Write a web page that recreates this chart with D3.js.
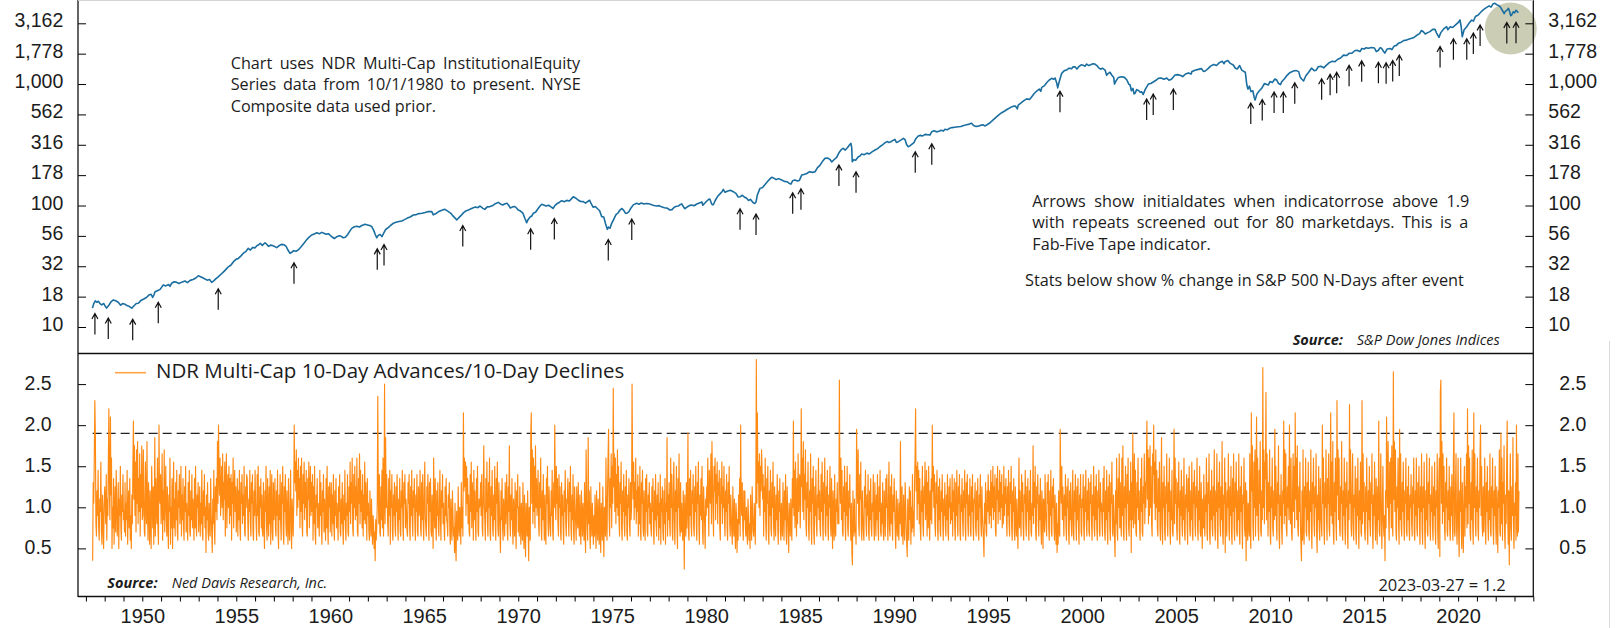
<!DOCTYPE html>
<html>
<head>
<meta charset="utf-8">
<script src="https://cdn.jsdelivr.net/npm/d3@7"></script>
<style>
  html, body { margin: 0; padding: 0; background: #fff; }
  svg { display: block; font-family: "Open Sans", "Noto Sans", sans-serif; }
</style>
</head>
<body>
<svg id="chart" width="1616" height="628"></svg>
<script>
// ---- Equity index level (log scale): decimal year / level ----
const indexYears = [
  1947.35,1947.42,1947.50,1947.57,1947.66,1947.75,1947.84,1947.95,1948.02,1948.10,
  1948.22,1948.35,1948.46,1948.55,1948.63,1948.72,1948.85,1948.95,1949.08,1949.18,
  1949.30,1949.44,1949.55,1949.68,1949.79,1949.92,1950.08,1950.22,1950.35,1950.47,
  1950.55,1950.62,1950.68,1950.80,1950.95,1951.05,1951.12,1951.25,1951.40,1951.47,
  1951.56,1951.70,1951.83,1951.95,1952.10,1952.27,1952.40,1952.55,1952.70,1952.85,
  1952.98,1953.10,1953.22,1953.34,1953.45,1953.58,1953.69,1953.80,1953.92,1954.04,
  1954.20,1954.35,1954.50,1954.58,1954.72,1954.85,1955.00,1955.11,1955.25,1955.40,
  1955.52,1955.64,1955.75,1955.88,1956.00,1956.08,1956.17,1956.28,1956.38,1956.53,
  1956.62,1956.72,1956.82,1956.92,1957.05,1957.15,1957.27,1957.40,1957.55,1957.65,
  1957.75,1957.86,1957.95,1958.05,1958.18,1958.30,1958.45,1958.60,1958.75,1958.88,
  1959.01,1959.15,1959.28,1959.42,1959.54,1959.66,1959.78,1959.90,1960.08,1960.22,
  1960.35,1960.48,1960.58,1960.69,1960.80,1960.92,1961.03,1961.14,1961.28,1961.42,
  1961.55,1961.68,1961.85,1961.98,1962.10,1962.20,1962.30,1962.40,1962.47,1962.55,
  1962.65,1962.75,1962.85,1962.95,1963.10,1963.22,1963.35,1963.50,1963.65,1963.80,
  1963.95,1964.10,1964.25,1964.42,1964.58,1964.72,1964.88,1965.05,1965.22,1965.40,
  1965.48,1965.60,1965.75,1965.90,1966.02,1966.10,1966.25,1966.40,1966.50,1966.62,
  1966.73,1966.82,1966.95,1967.08,1967.20,1967.32,1967.43,1967.58,1967.72,1967.85,
  1967.97,1968.12,1968.22,1968.35,1968.50,1968.62,1968.75,1968.94,1969.05,1969.18,
  1969.30,1969.40,1969.47,1969.58,1969.70,1969.82,1969.92,1970.00,1970.12,1970.25,
  1970.35,1970.45,1970.52,1970.62,1970.72,1970.80,1970.92,1971.05,1971.15,1971.25,
  1971.35,1971.48,1971.62,1971.72,1971.78,1971.85,1971.95,1972.08,1972.20,1972.31,
  1972.45,1972.58,1972.72,1972.85,1972.93,1973.05,1973.18,1973.32,1973.46,1973.58,
  1973.70,1973.80,1973.88,1973.99,1974.10,1974.22,1974.33,1974.44,1974.55,1974.65,
  1974.74,1974.80,1974.88,1974.97,1975.08,1975.20,1975.32,1975.41,1975.52,1975.62,
  1975.70,1975.77,1975.88,1976.00,1976.12,1976.30,1976.42,1976.55,1976.68,1976.83,
  1976.95,1977.10,1977.22,1977.37,1977.50,1977.62,1977.78,1977.92,1978.07,1978.18,
  1978.30,1978.42,1978.52,1978.61,1978.70,1978.80,1978.87,1978.96,1979.10,1979.22,
  1979.35,1979.50,1979.67,1979.77,1979.82,1979.92,1980.05,1980.15,1980.20,1980.28,
  1980.33,1980.38,1980.48,1980.60,1980.72,1980.85,1980.91,1981.00,1981.12,1981.28,
  1981.44,1981.58,1981.70,1981.80,1981.92,1982.05,1982.15,1982.25,1982.35,1982.50,
  1982.58,1982.65,1982.72,1982.86,1983.00,1983.12,1983.25,1983.38,1983.48,1983.58,
  1983.72,1983.85,1984.02,1984.15,1984.30,1984.42,1984.51,1984.60,1984.72,1984.85,
  1984.95,1985.08,1985.20,1985.35,1985.50,1985.65,1985.79,1985.92,1986.05,1986.18,
  1986.32,1986.45,1986.58,1986.68,1986.78,1986.94,1987.08,1987.20,1987.29,1987.40,
  1987.52,1987.62,1987.70,1987.74,1987.77,1987.85,1987.95,1988.08,1988.18,1988.27,
  1988.40,1988.55,1988.68,1988.82,1988.98,1989.12,1989.25,1989.38,1989.51,1989.62,
  1989.72,1989.82,1989.92,1990.04,1990.12,1990.22,1990.35,1990.49,1990.58,1990.66,
  1990.75,1990.85,1990.95,1991.05,1991.15,1991.28,1991.40,1991.52,1991.65,1991.78,
  1991.90,1992.00,1992.12,1992.25,1992.38,1992.50,1992.62,1992.70,1992.82,1992.95,
  1993.08,1993.22,1993.41,1993.55,1993.70,1993.85,1994.00,1994.12,1994.22,1994.35,
  1994.47,1994.60,1994.72,1994.82,1994.92,1995.10,1995.25,1995.40,1995.55,1995.72,
  1995.88,1996.02,1996.18,1996.32,1996.45,1996.55,1996.60,1996.75,1996.90,1997.05,
  1997.20,1997.32,1997.45,1997.60,1997.72,1997.80,1997.85,1997.98,1998.12,1998.25,
  1998.38,1998.48,1998.56,1998.65,1998.70,1998.76,1998.91,1999.05,1999.18,1999.30,
  1999.45,1999.52,1999.62,1999.72,1999.82,1999.95,2000.05,2000.15,2000.24,2000.35,
  2000.45,2000.58,2000.68,2000.78,2000.88,2000.98,2001.08,2001.22,2001.30,2001.38,
  2001.48,2001.57,2001.68,2001.72,2001.80,2001.92,2002.10,2002.25,2002.38,2002.48,
  2002.55,2002.62,2002.70,2002.76,2002.81,2002.90,2003.00,2003.10,2003.17,2003.25,
  2003.35,2003.52,2003.65,2003.80,2003.95,2004.05,2004.20,2004.35,2004.50,2004.62,
  2004.75,2004.94,2005.08,2005.25,2005.35,2005.50,2005.65,2005.80,2005.83,2006.00,
  2006.18,2006.35,2006.45,2006.55,2006.71,2006.85,2007.00,2007.15,2007.30,2007.45,
  2007.55,2007.60,2007.75,2007.88,2008.04,2008.15,2008.25,2008.38,2008.49,2008.60,
  2008.68,2008.76,2008.82,2008.90,2008.98,2009.08,2009.15,2009.20,2009.30,2009.46,
  2009.55,2009.70,2009.90,2010.00,2010.12,2010.25,2010.35,2010.45,2010.55,2010.62,
  2010.75,2010.90,2011.05,2011.15,2011.28,2011.40,2011.52,2011.60,2011.68,2011.78,
  2011.90,2012.05,2012.20,2012.35,2012.45,2012.56,2012.70,2012.85,2013.00,2013.15,
  2013.30,2013.45,2013.60,2013.75,2013.90,2014.08,2014.20,2014.34,2014.50,2014.62,
  2014.78,2014.88,2015.00,2015.10,2015.22,2015.40,2015.55,2015.65,2015.75,2015.85,
  2015.93,2016.03,2016.10,2016.22,2016.40,2016.48,2016.60,2016.72,2016.82,2016.95,
  2017.10,2017.25,2017.40,2017.53,2017.65,2017.80,2017.95,2018.05,2018.15,2018.25,
  2018.38,2018.50,2018.65,2018.77,2018.85,2018.98,2019.08,2019.25,2019.39,2019.45,
  2019.58,2019.70,2019.85,2020.00,2020.10,2020.16,2020.22,2020.32,2020.46,2020.60,
  2020.72,2020.82,2020.92,2021.07,2021.20,2021.35,2021.50,2021.65,2021.75,2021.85,
  2021.96,2022.05,2022.15,2022.25,2022.35,2022.45,2022.50,2022.60,2022.68,2022.75,
  2022.80,2022.85,2022.93,2023.00,2023.08,2023.15,2023.20
];
const indexLevels = [
  14.3,15.6,16.4,16.0,16.3,15.6,15.2,15.6,14.9,14.3,
  15.1,16.2,16.7,16.5,16.3,16.0,15.1,15.6,15.4,15.0,
  14.8,14.3,14.9,15.6,15.7,16.5,17.0,17.5,18.3,18.6,
  17.5,18.4,19.5,19.9,20.4,21.5,22.2,21.8,22.4,21.6,
  22.9,23.6,23.3,22.8,23.4,23.9,23.2,24.2,24.6,25.3,
  26.4,25.9,25.4,24.8,24.3,24.6,23.3,24.0,25.0,25.9,
  27.3,28.7,30.4,31.3,32.4,34.5,36.2,36.7,38.5,40.8,
  42.0,44.4,43.0,45.2,44.8,46.5,47.3,48.9,47.0,49.4,
  48.0,46.1,47.2,46.8,45.9,45.0,46.6,47.9,47.5,46.2,
  43.0,40.4,41.2,42.5,42.0,43.1,45.8,48.9,52.4,55.0,
  57.2,58.4,59.6,58.5,60.1,59.0,57.9,58.6,55.3,53.5,
  55.4,56.3,55.8,54.3,54.8,57.5,61.2,64.9,66.8,67.5,
  66.5,68.5,70.0,69.2,68.4,67.3,63.0,57.5,54.3,56.8,
  57.8,55.5,59.5,63.5,66.0,68.8,71.3,72.8,73.8,74.5,
  76.5,78.8,80.5,83.5,84.2,85.8,86.4,87.5,89.3,89.0,
  83.8,85.5,88.8,91.0,92.5,93.1,89.8,86.7,83.0,79.5,
  76.0,78.8,82.5,87.0,90.1,91.5,93.1,95.5,97.2,96.0,
  99.1,94.8,93.0,97.5,98.0,99.5,102.8,106.2,103.0,101.0,
  103.5,104.3,101.5,95.5,97.5,98.2,95.0,91.8,90.0,86.5,
  78.5,72.1,76.5,80.2,82.0,86.3,88.0,94.0,98.5,102.4,
  101.0,99.0,100.5,98.0,96.7,94.5,99.8,104.0,106.5,109.6,
  107.5,110.2,109.0,114.5,118.0,115.5,111.0,108.0,107.6,104.5,
  108.0,110.5,103.5,96.7,98.2,94.0,90.5,81.0,80.5,70.5,
  63.7,66.5,65.0,71.3,77.0,84.0,87.2,91.8,94.5,90.8,
  86.5,86.3,88.6,95.5,101.2,104.2,102.5,105.0,103.0,104.0,
  103.3,101.5,100.2,99.0,99.8,97.5,95.8,95.2,91.8,92.5,
  96.8,98.5,99.0,101.5,103.2,97.0,94.2,96.7,99.8,101.0,
  99.5,103.0,105.5,107.0,100.5,104.5,109.5,113.0,112.5,104.0,
  101.5,101.5,110.0,118.5,124.0,130.5,135.8,128.5,131.0,133.5,
  130.0,126.0,117.5,118.0,121.5,116.8,114.6,110.0,112.5,105.5,
  104.0,107.0,122.0,138.4,141.0,148.5,157.0,165.0,170.6,168.8,
  163.5,166.5,162.0,158.0,157.0,152.0,150.3,160.0,162.5,159.5,
  160.5,178.0,180.0,183.5,190.0,187.5,189.7,205.0,214.0,230.0,
  244.5,246.0,240.0,228.5,237.0,249.0,275.0,290.0,295.6,286.0,
  300.0,315.0,325.0,300.0,229.0,238.5,236.0,251.0,256.0,265.5,
  262.0,270.0,266.0,276.5,286.4,294.0,306.0,316.0,328.7,336.0,
  330.5,335.0,342.0,350.6,330.0,335.5,345.0,357.0,348.0,318.0,
  305.0,311.0,320.5,330.0,355.0,373.0,378.0,374.0,385.0,383.0,
  380.0,405.0,412.0,404.0,408.0,416.0,410.0,424.0,420.0,432.5,
  438.0,441.0,445.0,447.0,456.0,462.0,468.0,475.0,455.0,448.0,
  449.0,457.0,462.0,452.0,460.0,480.0,505.0,530.0,555.0,581.0,
  600.0,620.0,640.0,655.0,660.0,625.0,671.0,700.0,730.0,755.0,
  745.0,786.0,835.0,880.0,910.0,870.0,939.0,965.0,1030.0,1080.0,
  1114.0,1095.0,1120.0,1014.0,930.0,1020.0,1225.0,1290.0,1305.0,1350.0,
  1340.0,1385.0,1387.0,1330.0,1390.0,1440.0,1430.0,1400.0,1461.0,1420.0,
  1440.0,1470.0,1461.0,1420.0,1360.0,1325.0,1350.0,1303.0,1180.0,1220.0,
  1250.0,1186.0,1130.0,1000.0,1060.0,1130.0,1148.0,1135.0,1080.0,1000.0,
  982.0,880.0,920.0,830.0,838.0,900.0,885.0,855.0,862.0,820.0,
  900.0,1000.0,1010.0,1045.0,1080.0,1114.0,1120.0,1095.0,1120.0,1075.0,
  1095.0,1186.0,1195.0,1175.0,1150.0,1210.0,1235.0,1210.0,1262.0,1300.0,
  1320.0,1340.0,1270.0,1280.0,1345.0,1410.0,1450.0,1420.0,1500.0,1540.0,
  1470.0,1527.0,1560.0,1480.0,1433.0,1350.0,1330.0,1420.0,1303.0,1270.0,
  1250.0,981.0,910.0,960.0,866.0,880.0,780.0,738.0,830.0,893.0,
  920.0,1010.0,981.0,1050.0,1030.0,1100.0,1079.0,1010.0,990.0,1046.0,
  1100.0,1180.0,1240.0,1262.0,1285.0,1290.0,1265.0,1140.0,1100.0,1060.0,
  1170.0,1250.0,1350.0,1290.0,1300.0,1387.0,1400.0,1360.0,1430.0,1500.0,
  1540.0,1527.0,1600.0,1640.0,1730.0,1720.0,1790.0,1791.0,1880.0,1900.0,
  1850.0,1960.0,1940.0,1990.0,1968.0,2000.0,1980.0,1850.0,1890.0,1990.0,
  1968.0,1860.0,1800.0,1940.0,1960.0,1920.0,2060.0,2080.0,2163.0,2200.0,
  2280.0,2300.0,2350.0,2378.0,2420.0,2520.0,2600.0,2760.0,2694.0,2580.0,
  2650.0,2700.0,2820.0,2818.0,2640.0,2422.0,2650.0,2860.0,2965.0,2800.0,
  2960.0,2920.0,3050.0,3200.0,3366.0,3000.0,2451.0,2800.0,2965.0,3200.0,
  3360.0,3300.0,3600.0,3700.0,3900.0,4100.0,4250.0,4400.0,4300.0,4550.0,
  4614.0,4500.0,4440.0,4300.0,4050.0,3800.0,3937.0,4050.0,4200.0,3900.0,
  3650.0,3700.0,3937.0,3850.0,4050.0,3950.0,3865.0
];

// ---- Initial dates when the ratio rose above 1.9 (repeats screened for 80 days) ----
const signalYears = [
  1947.48, 1948.19, 1949.49, 1950.85, 1954.04, 1958.07, 1962.50, 1962.86, 1967.05, 1970.66,
  1971.92, 1974.79, 1976.04, 1981.80, 1982.65, 1984.60, 1985.04, 1987.06, 1987.97, 1991.12,
  1992.00, 1998.82, 2003.43, 2003.78, 2004.85, 2008.97, 2009.58, 2010.21, 2010.70, 2011.31,
  2012.74, 2013.19, 2013.54, 2014.20, 2014.87, 2015.76, 2016.17, 2016.52, 2016.87, 2019.04,
  2019.75, 2020.46, 2020.81, 2021.17, 2022.59, 2023.08
];
const signalThreshold = 1.9;

// ---- 10-day advances / 10-day declines ratio ----
// One string per calendar year, one character per reading, spread evenly through the year.
// Character code: position in ratioCodes, value = 0.20 + 0.05 * position
// ('g' = 1.00, 'y' = 1.90, 'A' = 2.00, 'K' = 2.50).
const ratioCodes = "0123456789abcdefghijklmnopqrstuvwxyzABCDEFGHIJKLMNOPQRSTUVWXYZ";
const ratioFirstYear = 1947;
const ratioStart = 1947.33;
const ratioEnd = 2023.2356;          // 2023-03-27
const ratioLastDate = "2023-03-27";
const ratioRows = [
  "3mhsGxc9kepb8ifra7jd6gl",
  "hco8ierEkdCj" + "s6gbn7flaph9" + "cm6ieqb8jfod",
  "fam9hdp7gkbn" + "8e6jcqBivera" + "uhwcnft9ogvd",
  "euja9rhcwf8m" + "g7kd6qibl7ex" + "9ngcsb7Ajhoc",
  "ht8kduaiqe9l" + "c6jfs7gbn6hr" + "bi9mdpa8kgoc",
  "gq9jdnb8lfqa" + "hc8mepa9kdob" + "ie8nbqc9jgma",
  "fl9hcpa8keob" + "g5jdma8hc9ne" + "a5icpb7lfndw",
  "hAnjsekqgtdm" + "ir9ltbjogqcn" + "eo8mhsbkpfla",
  "gn9kdpb8mhoc" + "jeqa9lgond8i" + "fpc9mhoa8kep",
  "hc8oeqa9lgnb" + "ja9md6kfqb8n" + "e9lcp7hoa8md",
  "gnb9kepa6jdo" + "c8mhqa7lfoc9" + "kd7nb8gpa6ie",
  "9hAmrkuepgsi" + "nbqfsc9ohrdm" + "gpa9nirbkqem",
  "fo8lcqa7jgnb" + "hd9pemb7kfoa" + "id8nbqc7lgma",
  "gm9jcob8kenb" + "hd8lfoa9icmb" + "7jdpb8heoa9l",
  "frcmhsb9ogqd" + "lesa9nhtcpfk" + "bo9jdrcmg8ne",
  "ha8kd9ib7ec6" + "a3d8bhHjcoa9" + "ldpbs9iKcxgo",
  "hc9nep7kgoa8" + "jemb9lfoc8id" + "na9kgpc8mhob",
  "ifa9mhob8lep" + "d9kgnc8jfoa9" + "legpb9mdoc8k",
  "reb9lhoc8mfn" + "a9jd6sgbnc8k" + "emb9hpd8kgoc",
  "hb8lendc9jgm" + "a7ic8ke9b5h7" + "3fa8lc9gd7mb",
  "g9Dkslreqhnc" + "ja9ofrbmh8pd" + "kc8nfqa9ighm",
  "eob9kvhd8nfr" + "c9mgsa8lepb9" + "jdqc8nhrb9mf",
  "a5kdnb8ie9mc" + "hoa8lfvc9jdn" + "b7ie9mc6kgoa",
  "g9ld7hc8mb6j" + "a4he9kb3gc8y" + "Dhucsfqbvgne",
  "ipc9mgsb8kdo" + "e8ja7nhqc9lf" + "b9kepa8mgAid",
  "qhnc9ogla8me" + "jb7kfpc9ihnd" + "9mfqb8jdoa7l",
  "gc8lebmd9ja7" + "ke9hc8ma5uib" + "8xcka6ld9hb7",
  "e9jb6kd8ic7m" + "a5hc8lb4gd9s" + "c8ksze9ngtbq",
  "hJltfscogueq" + "d9mhrb8kfoc9" + "lepa8jgnc9md",
  "gKpirdmgsckf" + "o9lcqa8mhpb9" + "ke8nfoa9jgmc",
  "hb9lfna7kdoc" + "9jem8hbo7ifl" + "a8kcn7hfx9jd",
  "mc9sgoa8lrd7" + "kfqb6ngtc9ma" + "hc8ke1jd9mbg",
  "ya8nepc9khob" + "9lfqc8mhrb7j" + "endqa7lgc6ie",
  "lgsi9pjhtcwn" + "f9qksdohrcmj" + "pb8nhrclgqd9",
  "kfob8mhqc9je" + "a7lc9ib6he5d" + "8jcn9Ahemb8k",
  "dkb9ga7ie8c6" + "jc8lea9hd7kQ" + "hDmrgteqkupi",
  "o9lfsc8nhqa7" + "kepb9mgrc8ld" + "9jdob7kfna8h",
  "c9mf8kdoa7lg" + "a5hd9ic8ngBe" + "pbrg9nctfkob",
  "hElsfwdoiuc9" + "mgrb8kftc7nh" + "qa7lepc9jgsd",
  "kb9ofrc8mhsa" + "9lepb8jgqc9n" + "e6kd8oa9ifmc",
  "gcLnhsdpa9lf" + "qc8meqb9kgoc" + "8h52kd9iab7z",
  "mhuc9oirb8ke" + "a8lgpc9jeoa8" + "kdnb9hfoc8me",
  "9jdob8lfpa9h" + "cma8ke9ngoc8" + "irb9lcod8jfn",
  "ga6kd9ib8hcw" + "e9la7jc8mhb7" + "4ic8ldk7gaob",
  "f9msEkqdrhpc" + "nb8kfqc9lhrd" + "gp9mbqe8kdnc",
  "Akqgoc9mhpb8" + "ldna9kfoc8ie" + "mb9jdoa8lgnc",
  "hdo9kfnb8mep" + "c9lhoa8jfnd9" + "kgpb8mhoc9je",
  "na9lfoc8ihmb" + "9kdna8jgoc9l" + "eb84hcma9kfo",
  "hckepbmgqdlf" + "oa9niqckfpdm" + "gobjcqelhnd9",
  "lepc9mhqb8kf" + "na8ld9ic6gsb" + "kd9ofmb8jhpc",
  "9lfnb8kdpa9h" + "evcmgqa8lhoc" + "9jdnb7kf6iga",
  "ofc9mhob8kep" + "a9lgnc8jd7h5" + "c7ka9zmhqdlf",
  "9jeob8lgna7k" + "dmc9hpa8kfoc" + "8ldnb7jgoa9i",
  "gob8lfpc9kdn" + "a9mhoc8jeqb9" + "ldob8kgpa9mf",
  "hc9nfqa8kdpb" + "7lfob8mhra9j" + "e94kcsa8ngtb",
  "mc9seva8lgqc" + "8ohsb9kdr5md" + "ybjtcpa9mgsd",
  "kb8nfsa9lhtc" + "mgrBiucsevgq" + "c9toAhrdugpb",
  "9nfrb8kxc7mg" + "qa8lhtc9mfsb" + "7kdpa9gzcshn",
  "b8mgra7kepc9" + "ldsa8jgoc7nf" + "qb9kdra8mhpc",
  "9lgsb8kdqa9m" + "e6iboc9jfsa8" + "mhta7kdpb9le",
  "ub8kfta6mgrc" + "9ldwa7jhs5mc" + "9kgtb8leqa7n",
  "ftb8mgra9kdt" + "a7lfqc6jhsb9" + "m3ke8hc9tb6D",
  "kvc8rgu9jCes" + "b8phwa9kdOgu" + "crnIdti9mfua",
  "7lgsb9kdzeqc" + "8mhva6jeob7k" + "hBcuetb9lgqd",
  "Ahcsa8ktfqbD" + "isdvb9lfrc73" + "k8ub7lgsa9md",
  "ra8kfub6mhsc" + "9lgta5jdqb8n" + "fc9Ahsb7mgud",
  "8nhtb9lDercw" + "a7mfsc8Gjuds" + "b9lhwa8kesc7",
  "mgra6kdFhub9" + "ltc8jgqa7nes" + "b6kdra9Gctfm",
  "a8lfsb7kdqc9" + "mhtb6jerc8ng" + "7ldBa9ktc6hq",
  "c9e3kbCmgwd8" + "rhsbvc9Niwfu" + "a8lgsc7zdtb9",
  "mfrc8khsa9ld" + "qb8jgoc9lhsa" + "8kesb9mgqc7l",
  "ftb7lgra6kdt" + "a9mhsc8jfqb8" + "lerb7kgta6ms",
  "4ILhwctfqb8m" + "gsa9kdqb8leo" + "c8rDa9ktb7hs",
  "a4kfsb6md5hq" + "9lgtbEcvhsa8" + "mdub7Dgtc9lf",
  "sb8kgtAeqc9l" + "ahsb7mfqc8kd" + "ta9lgsb7keqc",
  "7ld5kgua9ycs" + "8mhva6jcqBe7" + "k2gtb8lexc6h",
  "em8Ac9tak"
];

// ---- Axis ticks ----
const indexTicks = [10, 17.783, 31.623, 56.234, 100, 177.83, 316.23, 562.34, 1000, 1778.3, 3162.3];
const ratioTicks = [0.5, 1.0, 1.5, 2.0, 2.5];
const yearTicks = d3.range(1947, 2025);
const yearLabels = [1950, 1955, 1960, 1965, 1970, 1975, 1980, 1985, 1990, 1995, 2000, 2005, 2010, 2015, 2020];

// ---- Text ----
const legendLabel = "NDR Multi-Cap 10-Day Advances/10-Day Declines";
const noteLeft = [
  ["Chart", "uses", "NDR", "Multi-Cap", "InstitutionalEquity"],
  ["Series", "data", "from", "10/1/1980", "to", "present.", "NYSE"],
  "Composite data used prior."
];
const noteRight = [
  ["Arrows", "show", "initialdates", "when", "indicatorrose", "above", "1.9"],
  ["with", "repeats", "screened", "out", "for", "80", "marketdays.", "This", "is", "a"],
  "Fab-Five Tape indicator."
];
const noteStats = "Stats below show % change in S&P 500 N-Days after event";

// ---------------------------------------------------------------
const svg = d3.select("#chart");
const C = { blue: "#1a6ea0", orange: "#ff8a14", ink: "#1c1c1c" };

const L = 78, R = 1533.3;
const x = d3.scaleLinear().domain([1946.58, 2024]).range([L, R]);
const yTop = d3.scaleLog().domain([10, 3162.28]).range([327, 23.3]);
const yBot = d3.scaleLinear().domain([0.5, 2.5]).range([548.4, 384.1]);

const indexData = indexYears.map((t, i) => ({ t, v: indexLevels[i] }));
const ratioData = [];
ratioRows.forEach((row, r) => {
  const yr = ratioFirstYear + r;
  const s = r === 0 ? ratioStart : yr;
  const e = r === ratioRows.length - 1 ? ratioEnd : yr + 1;
  for (let i = 0; i < row.length; i++) {
    ratioData.push({ t: s + (i + 1) * (e - s) / row.length, v: 0.2 + 0.05 * ratioCodes.indexOf(row[i]) });
  }
});

// index level at a given date (log interpolation between readings)
function levelAt(t) {
  const i = d3.bisector(d => d.t).left(indexData, t);
  if (i <= 0) return indexData[0].v;
  if (i >= indexData.length) return indexData[indexData.length - 1].v;
  const a = indexData[i - 1], b = indexData[i];
  const f = (t - a.t) / (b.t - a.t);
  return Math.exp(Math.log(a.v) + f * (Math.log(b.v) - Math.log(a.v)));
}

const defs = svg.append("defs");
defs.append("clipPath").attr("id", "clipTop").append("rect")
  .attr("x", L).attr("y", 0).attr("width", R - L).attr("height", 353);
defs.append("clipPath").attr("id", "clipBot").append("rect")
  .attr("x", L).attr("y", 354).attr("width", R - L).attr("height", 242);

// highlight circle on the latest signals
svg.append("circle")
  .attr("cx", x(2022.80)).attr("cy", 28.5).attr("r", 26)
  .attr("fill", "#c9cab1").attr("opacity", 0.95);

// ---- upper panel ----
svg.append("path")
  .datum(indexData)
  .attr("clip-path", "url(#clipTop)")
  .attr("fill", "none")
  .attr("stroke", C.blue)
  .attr("stroke-width", 1.6)
  .attr("stroke-linejoin", "round")
  .attr("d", d3.line().x(d => x(d.t)).y(d => yTop(d.v)));

svg.append("g").selectAll("path")
  .data(signalYears)
  .join("path")
  .attr("fill", "none")
  .attr("stroke", "#111")
  .attr("stroke-width", 1.2)
  .attr("d", t => {
    const px = x(t), top = yTop(levelAt(t)) + 12;
    return `M${px},${top + 21}V${top}M${px - 3},${top + 5.5}L${px},${top}L${px + 3},${top + 5.5}`;
  });

const axTL = svg.append("g").attr("transform", `translate(${L},0)`)
  .call(d3.axisLeft(yTop).tickValues(indexTicks).tickSizeInner(-8).tickSizeOuter(0)
    .tickPadding(14.7).tickFormat(d3.format(",.0f")));
const axTR = svg.append("g").attr("transform", `translate(${R},0)`)
  .call(d3.axisRight(yTop).tickValues(indexTicks).tickSizeInner(-8).tickSizeOuter(0)
    .tickPadding(15).tickFormat(d3.format(",.0f")));
[axTL, axTR].forEach(g => {
  g.select(".domain").remove();
  g.selectAll("text").attr("dy", 3.5).attr("font-size", 19.5).attr("fill", C.ink)
    .attr("font-family", null);
});

// ---- lower panel ----
svg.append("line")
  .attr("x1", x(ratioData[0].t)).attr("x2", x(ratioEnd))
  .attr("y1", yBot(signalThreshold)).attr("y2", yBot(signalThreshold))
  .attr("stroke", "#222").attr("stroke-width", 1.2).attr("stroke-dasharray", "9,5");

svg.append("path")
  .datum(ratioData)
  .attr("clip-path", "url(#clipBot)")
  .attr("fill", "none")
  .attr("stroke", C.orange)
  .attr("stroke-width", 1.15)
  .attr("stroke-linejoin", "round")
  .attr("d", d3.line().x(d => x(d.t)).y(d => yBot(d.v)));

const axBL = svg.append("g").attr("transform", `translate(${L},0)`)
  .call(d3.axisLeft(yBot).tickValues(ratioTicks).tickSizeInner(-8).tickSizeOuter(0)
    .tickPadding(26.3).tickFormat(d3.format(".1f")));
const axBR = svg.append("g").attr("transform", `translate(${R},0)`)
  .call(d3.axisRight(yBot).tickValues(ratioTicks).tickSizeInner(-8).tickSizeOuter(0)
    .tickPadding(26).tickFormat(d3.format(".1f")));
[axBL, axBR].forEach(g => {
  g.select(".domain").remove();
  g.selectAll("text").attr("dy", 5.2).attr("font-size", 19.5).attr("fill", C.ink)
    .attr("font-family", null);
});

const axX = svg.append("g").attr("transform", "translate(0,596.5)")
  .call(d3.axisBottom(x).tickValues(yearTicks).tickSizeInner(5).tickSizeOuter(0)
    .tickPadding(7).tickFormat(d => yearLabels.includes(d) ? String(d) : ""));
axX.select(".domain").remove();
axX.selectAll("text").attr("font-size", 20).attr("fill", C.ink).attr("font-family", null);

// ---- frame ----
const frame = svg.append("g").attr("stroke", "#111").attr("stroke-width", 1.3);
frame.append("line").attr("x1", L).attr("x2", L).attr("y1", 0).attr("y2", 597);
frame.append("line").attr("x1", R).attr("x2", R).attr("y1", 0).attr("y2", 597);
frame.append("line").attr("x1", L).attr("x2", R).attr("y1", 353.5).attr("y2", 353.5);
frame.append("line").attr("x1", L).attr("x2", R).attr("y1", 596.5).attr("y2", 596.5);
svg.append("line").attr("x1", L).attr("x2", R).attr("y1", 0.5).attr("y2", 0.5)
  .attr("stroke", "#d4d4d4").attr("stroke-width", 1);
svg.append("line").attr("x1", 1609.5).attr("x2", 1609.5).attr("y1", 341).attr("y2", 628)
  .attr("stroke", "#dadada").attr("stroke-width", 1);

// ---- legend ----
svg.append("line").attr("x1", 115).attr("x2", 146).attr("y1", 372.7).attr("y2", 372.7)
  .attr("stroke", "#ffa347").attr("stroke-width", 1.6);
svg.append("text").attr("x", 156).attr("y", 377.5).attr("font-size", 20.5)
  .attr("fill", C.ink).text(legendLabel);

// ---- notes ----
function justified(words, x0, width, y, size) {
  const t = svg.append("text").attr("y", y).attr("font-size", size).attr("fill", C.ink);
  const spans = words.map(w => t.append("tspan").text(w));
  const widths = spans.map(s => s.node().getComputedTextLength());
  const gap = (width - d3.sum(widths)) / (words.length - 1);
  let cx = x0;
  spans.forEach((s, i) => { s.attr("x", cx); cx += widths[i] + gap; });
}
const noteSize = 16.2;
justified(noteLeft[0], 230.7, 349.5, 69, noteSize);
justified(noteLeft[1], 230.7, 350, 90, noteSize);
svg.append("text").attr("x", 230.7).attr("y", 111.5).attr("font-size", noteSize)
  .attr("fill", C.ink).text(noteLeft[2]);
justified(noteRight[0], 1032.3, 437, 207.3, noteSize);
justified(noteRight[1], 1032.3, 436, 228.3, noteSize);
svg.append("text").attr("x", 1032.3).attr("y", 250).attr("font-size", noteSize)
  .attr("fill", C.ink).text(noteRight[2]);
svg.append("text").attr("x", 1025).attr("y", 286).attr("font-size", 16.3)
  .attr("fill", C.ink).text(noteStats);

// ---- sources & last value ----
function source(x0, x1, y, name) {
  svg.append("text").attr("x", x0).attr("y", y).attr("font-size", 14.5)
    .attr("font-weight", "bold").attr("font-style", "italic").attr("fill", C.ink).text("Source:");
  svg.append("text").attr("x", x1).attr("y", y).attr("font-size", 14.5)
    .attr("font-style", "italic").attr("fill", C.ink).text(name);
}
source(1292.7, 1356.7, 344.5, "S&P Dow Jones Indices");
source(107.3, 171.7, 588.3, "Ned Davis Research, Inc.");

const lastRatio = ratioData[ratioData.length - 1].v;
svg.append("text").attr("x", 1505.7).attr("y", 590.7).attr("text-anchor", "end")
  .attr("font-size", 16.5).attr("fill", C.ink)
  .text(`${ratioLastDate} = ${d3.format(".1f")(lastRatio)}`);
</script>
</body>
</html>
